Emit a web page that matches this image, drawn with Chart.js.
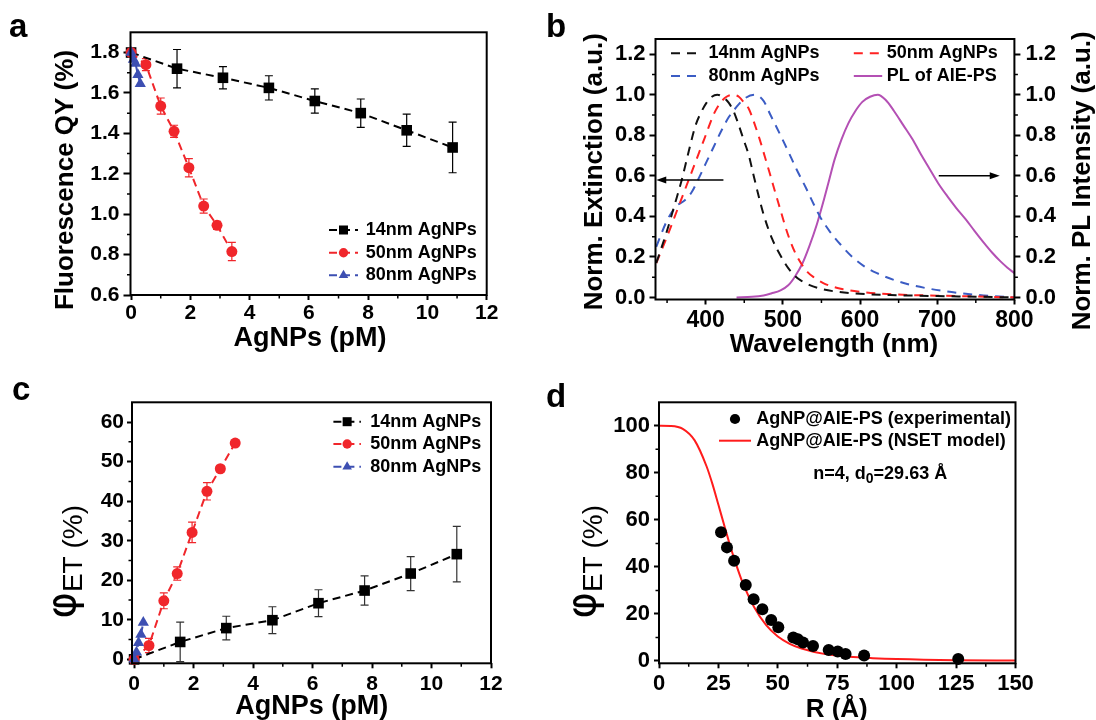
<!DOCTYPE html>
<html>
<head>
<meta charset="utf-8">
<title>AgNP quenching of AIE-PS</title>
<script src="https://cdn.jsdelivr.net/npm/chart.js@4.4.1/dist/chart.umd.min.js"></script>
<style>
  html, body { margin: 0; padding: 0; background: #fff; }
  body { position: relative; width: 1096px; height: 720px; overflow: hidden; font-family: 'Liberation Sans', Arial, sans-serif; }
  .panel { position: absolute; }
  .tag { position: absolute; font-weight: bold; font-size: 33px; line-height: 1; color: #000; }
</style>
</head>
<body>
<div class="panel" style="left:0;top:0"><canvas id="qyChart" width="540" height="360"></canvas></div>
<div class="panel" style="left:540px;top:0"><canvas id="specChart" width="556" height="360"></canvas></div>
<div class="panel" style="left:0;top:370px"><canvas id="etChart" width="540" height="350"></canvas></div>
<div class="panel" style="left:540px;top:370px"><canvas id="nsetChart" width="556" height="350"></canvas></div>
<div class="tag" style="left:9px;top:9px">a</div>
<div class="tag" style="left:546px;top:9px">b</div>
<div class="tag" style="left:12px;top:372px">c</div>
<div class="tag" style="left:546px;top:379px">d</div>

<script>
const FONT = "'Liberation Sans', Arial, Helvetica, sans-serif";

// ---- a / c : concentration series (pM)
const conc14 = [0, 1.55, 3.1, 4.65, 6.2, 7.75, 9.3, 10.85];
const conc50 = [0, 0.5, 1.0, 1.45, 1.95, 2.45, 2.9, 3.4];
const conc80 = [0, 0.08, 0.15, 0.23, 0.31];

// a: fluorescence QY (%)
const qy14 = [1.80, 1.72, 1.675, 1.625, 1.56, 1.50, 1.415, 1.33];
const qy14Err = [0, 0.095, 0.055, 0.06, 0.06, 0.07, 0.08, 0.125];
const qy50 = [1.80, 1.74, 1.535, 1.41, 1.23, 1.04, 0.945, 0.815];
const qy50Err = [0, 0.03, 0.04, 0.03, 0.045, 0.035, 0.02, 0.045];
const qy80 = [1.80, 1.765, 1.745, 1.69, 1.645];

// c: energy transfer efficiency (%)
const et14 = [0, 4.4, 7.9, 9.9, 14.2, 17.4, 21.7, 26.6];
const et14Err = [0, 5, 3, 3.4, 3.4, 3.7, 4.3, 7];
const et50 = [0, 3.5, 14.8, 21.7, 32.1, 42.5, 48.2, 54.7];
const et50Err = [0, 1.8, 2, 1.7, 2.6, 2.2, 0.8, 0.7];
const et80 = [0, 1.8, 4.2, 6.3, 9.3];

// b: normalised extinction / PL spectra
const wl14 = [336, 350, 360, 369, 378, 387, 395, 401, 408, 415, 422, 430, 436, 442, 449, 456, 461, 468, 475, 486, 498, 507, 516, 525, 534, 550, 567, 600, 650, 700, 750, 800];
const ext14 = [0.17, 0.33, 0.46, 0.58, 0.72, 0.85, 0.92, 0.96, 0.99, 1.0, 0.99, 0.96, 0.92, 0.86, 0.78, 0.70, 0.62, 0.51, 0.41, 0.29, 0.20, 0.145, 0.105, 0.08, 0.062, 0.042, 0.03, 0.018, 0.011, 0.007, 0.004, 0.0];
const wl50 = [336, 350, 365, 378, 390, 401, 410, 419, 427, 435, 443, 450, 456, 463, 470, 477, 484, 490, 497, 504, 511, 518, 525, 532, 540, 553, 575, 600, 645, 700, 750, 800];
const ext50 = [0.17, 0.30, 0.45, 0.58, 0.70, 0.81, 0.90, 0.96, 0.99, 1.0, 0.99, 0.96, 0.93, 0.86, 0.78, 0.69, 0.60, 0.52, 0.43, 0.34, 0.265, 0.205, 0.16, 0.125, 0.1, 0.07, 0.043, 0.028, 0.015, 0.009, 0.005, 0.0];
const wl80 = [336, 350, 362, 373, 382, 390, 400, 410, 420, 430, 440, 450, 463, 475, 484, 497, 507, 518, 530, 540, 548, 560, 575, 590, 605, 622, 645, 668, 690, 713, 737, 760, 780, 800];
const ext80 = [0.25, 0.38, 0.45, 0.48, 0.52, 0.58, 0.66, 0.74, 0.82, 0.89, 0.94, 0.98, 1.0, 0.97, 0.90, 0.80, 0.72, 0.63, 0.54, 0.46, 0.40, 0.33, 0.26, 0.2, 0.155, 0.12, 0.085, 0.06, 0.043, 0.029, 0.018, 0.01, 0.005, 0.0];
const wlPL = [440, 460, 475, 485, 497, 507, 516, 525, 534, 544, 553, 560, 567, 576, 585, 594, 603, 613, 623, 633, 644, 656, 668, 679, 690, 701, 713, 725, 737, 748, 760, 771, 782, 791, 800];
const plInt = [0.0, 0.003, 0.01, 0.02, 0.035, 0.06, 0.105, 0.165, 0.25, 0.36, 0.48, 0.58, 0.68, 0.78, 0.86, 0.92, 0.965, 0.99, 1.0, 0.975, 0.92, 0.85, 0.78, 0.705, 0.635, 0.565, 0.5, 0.44, 0.385, 0.33, 0.272, 0.222, 0.178, 0.147, 0.12];
const arrowExt = [423, 336, 0.58];   // from nm, to nm, level
const arrowPL = [702, 781, 0.60];

// d: NSET fit
const distR = [26.1, 28.6, 31.6, 36.5, 39.8, 43.5, 47.2, 50.2, 56.5, 58.4, 60.6, 64.8, 71.4, 75.2, 78.5, 86.3, 125.9];
const distPhi = [54.7, 48.3, 42.6, 32.3, 26.2, 22.0, 17.4, 14.3, 10.0, 9.2, 7.8, 6.4, 4.7, 4.0, 3.0, 2.3, 0.85];
const nsetR = [0, 5, 10, 15, 20, 22.5, 25, 27.5, 30, 32.5, 35, 40, 45, 50, 55, 60, 70, 80, 90, 100, 125, 150];
const nsetPhi = [100, 99.9, 98.7, 93.8, 82.8, 75.2, 66.4, 57.5, 48.8, 40.9, 33.8, 22.9, 15.3, 10.4, 7.3, 5.3, 2.9, 1.8, 1.2, 0.8, 0.3, 0.15];

// tick labels
const concTicks = [0, 2, 4, 6, 8, 10, 12];
const concMinor = [1, 3, 5, 7, 9, 11];
const qyTicks = [0.6, 0.8, 1.0, 1.2, 1.4, 1.6, 1.8];
const qyMinor = [0.7, 0.9, 1.1, 1.3, 1.5, 1.7];
const wlTicks = [400, 500, 600, 700, 800];
const wlMinor = [350, 450, 550, 650, 750];
const normTicks = [0, 0.2, 0.4, 0.6, 0.8, 1.0, 1.2];
const normMinor = [0.1, 0.3, 0.5, 0.7, 0.9, 1.1];
const etTicks = [0, 10, 20, 30, 40, 50, 60];
const etMinor = [5, 15, 25, 35, 45, 55];
const rTicks = [0, 25, 50, 75, 100, 125, 150];
const rMinor = [12.5, 37.5, 62.5, 87.5, 112.5, 137.5];
const phiTicks = [0, 20, 40, 60, 80, 100];
const phiMinor = [10, 30, 50, 70, 90];

function toPoints(xs, ys) {
    return xs.map((x, i) => ({ x: x, y: ys[i] }));
}

Chart.defaults.font.family = FONT;
Chart.defaults.color = '#000';
Chart.defaults.animation = false;
Chart.defaults.plugins.legend.display = false;
Chart.defaults.plugins.tooltip.enabled = false;

// Frame round the plot plus the short minor ticks
const frame = {
    id: 'frame',
    afterDraw(chart, args, o) {
        const { ctx, chartArea: a, scales } = chart;
        ctx.save();
        ctx.strokeStyle = '#000';
        ctx.lineWidth = 2;
        ctx.strokeRect(a.left, a.top, a.right - a.left, a.bottom - a.top);
        ctx.lineWidth = 1.5;
        ctx.beginPath();
        (o.minorX || []).forEach(v => {
            const px = scales.x.getPixelForValue(v);
            ctx.moveTo(px, a.bottom); ctx.lineTo(px, a.bottom + 3.5);
        });
        (o.minorY || []).forEach(v => {
            const py = scales.y.getPixelForValue(v);
            ctx.moveTo(a.left, py); ctx.lineTo(a.left - 3.5, py);
        });
        (o.minorY2 || []).forEach(v => {
            const py = scales.y2.getPixelForValue(v);
            ctx.moveTo(a.right, py); ctx.lineTo(a.right + 3.5, py);
        });
        ctx.stroke();
        ctx.restore();
    }
};

// Vertical error bars with caps, read from dataset.errors
const errorBars = {
    id: 'errorBars',
    beforeDatasetsDraw(chart) {
        const { ctx, scales } = chart;
        chart.data.datasets.forEach((ds, i) => {
            if (!ds.errors) return;
            const meta = chart.getDatasetMeta(i);
            ctx.save();
            ctx.strokeStyle = ds.errorColor || ds.borderColor;
            ctx.lineWidth = 1.2;
            meta.data.forEach((pt, j) => {
                const e = ds.errors[j];
                if (!e) return;
                const v = ds.data[j].y;
                const t = scales.y.getPixelForValue(v + e);
                const b = scales.y.getPixelForValue(v - e);
                ctx.beginPath();
                ctx.moveTo(pt.x, t); ctx.lineTo(pt.x, b);
                ctx.moveTo(pt.x - 4, t); ctx.lineTo(pt.x + 4, t);
                ctx.moveTo(pt.x - 4, b); ctx.lineTo(pt.x + 4, b);
                ctx.stroke();
            });
            ctx.restore();
        });
    }
};

function drawMarker(ctx, style, r, x, y, color) {
    ctx.fillStyle = color;
    ctx.beginPath();
    if (style === 'rect') {
        const s = r * Math.SQRT1_2;
        ctx.rect(x - s, y - s, 2 * s, 2 * s);
    } else if (style === 'triangle') {
        ctx.moveTo(x, y - r);
        ctx.lineTo(x + r * 0.866, y + r * 0.5);
        ctx.lineTo(x - r * 0.866, y + r * 0.5);
        ctx.closePath();
    } else {
        ctx.arc(x, y, r, 0, Math.PI * 2);
    }
    ctx.fill();
}

// Legend drawn inside the plot, one row per dataset
const boxLegend = {
    id: 'boxLegend',
    afterDraw(chart, args, o) {
        if (!o.rows) return;
        const ctx = chart.ctx;
        ctx.save();
        ctx.font = 'bold ' + o.size + 'px ' + FONT;
        ctx.textBaseline = 'middle';
        chart.data.datasets.forEach((ds, i) => {
            const row = o.rows[i];
            if (!row) return;
            if (ds.showLine) {
                ctx.strokeStyle = ds.borderColor;
                ctx.lineWidth = 2;
                ctx.setLineDash(ds.borderDash || []);
                ctx.beginPath();
                ctx.moveTo(row.x0, row.y); ctx.lineTo(row.x1, row.y);
                ctx.stroke();
                ctx.setLineDash([]);
            }
            if (ds.pointRadius > 0) {
                drawMarker(ctx, ds.pointStyle, ds.pointRadius * 0.85, (row.x0 + row.x1) / 2, row.y, ds.backgroundColor);
            }
            ctx.fillStyle = '#000';
            ctx.fillText(ds.label, row.tx, row.y);
        });
        ctx.restore();
    }
};

// Axis titles and notes built from text runs (for sub/superscripts)
const textRuns = {
    id: 'textRuns',
    afterDraw(chart, args, o) {
        const ctx = chart.ctx;
        (o.items || []).forEach(t => {
            ctx.save();
            ctx.translate(t.x, t.y);
            if (t.rot) ctx.rotate(t.rot);
            let w = 0;
            t.parts.forEach(p => { ctx.font = p.font; p.w = ctx.measureText(p.text).width; w += p.w; });
            let x = t.align === 'left' ? 0 : -w / 2;
            ctx.textBaseline = t.baseline || 'middle';
            ctx.fillStyle = '#000';
            t.parts.forEach(p => {
                ctx.font = p.font;
                ctx.fillText(p.text, x, p.dy || 0);
                x += p.w;
            });
            ctx.restore();
        });
    }
};

// Horizontal arrows telling which axis a curve belongs to
const axisArrows = {
    id: 'axisArrows',
    afterDatasetsDraw(chart, args, o) {
        const { ctx, scales } = chart;
        (o.items || []).forEach(a => {
            const x0 = scales.x.getPixelForValue(a[0]);
            const x1 = scales.x.getPixelForValue(a[1]);
            const py = scales.y.getPixelForValue(a[2]);
            const d = Math.sign(x1 - x0);
            ctx.save();
            ctx.strokeStyle = '#000';
            ctx.fillStyle = '#000';
            ctx.lineWidth = 1.5;
            ctx.beginPath();
            ctx.moveTo(x0, py); ctx.lineTo(x1 - d * 6, py);
            ctx.stroke();
            ctx.beginPath();
            ctx.moveTo(x1, py); ctx.lineTo(x1 - d * 10, py - 3.5); ctx.lineTo(x1 - d * 10, py + 3.5);
            ctx.closePath();
            ctx.fill();
            ctx.restore();
        });
    }
};

Chart.register(frame, errorBars, boxLegend, textRuns, axisArrows);

function axis(pos, min, max, ticks, fit, tl, pad, size, digits) {
    return {
        type: 'linear',
        position: pos,
        min: min,
        max: max,
        afterBuildTicks: s => { s.ticks = ticks.map(v => ({ value: v })); },
        afterFit: s => { if (pos === 'bottom') s.height = fit; else s.width = fit; },
        grid: { drawOnChartArea: false, drawTicks: true, tickLength: tl, tickWidth: 2, tickColor: '#000' },
        border: { display: false },
        ticks: {
            padding: pad,
            color: '#000',
            autoSkip: false,
            maxRotation: 0,
            font: { family: FONT, size: size, weight: 'bold' },
            callback: v => digits ? v.toFixed(digits) : String(v)
        }
    };
}

function title(text, x, y, size, rot) {
    return { x: x, y: y, rot: rot || 0, parts: [{ text: text, font: 'bold ' + size + 'px ' + FONT }] };
}

function phiTitle(x, y) {
    return {
        x: x, y: y, rot: -Math.PI / 2, baseline: 'alphabetic',
        parts: [
            { text: 'φ', font: "40px 'DejaVu Sans', sans-serif" },
            { text: 'ET (%)', font: '28px ' + FONT, dy: 7 }
        ]
    };
}

const BLACK = '#000000';
const RED = '#f0262b';
const BLUE = '#3d4fb2';

// a: fluorescence QY vs AgNPs
new Chart(document.getElementById('qyChart'), {
    type: 'scatter',
    data: {
        datasets: [
            { label: '14nm AgNPs', data: toPoints(conc14, qy14), errors: qy14Err, borderColor: BLACK, backgroundColor: BLACK,
              showLine: true, borderDash: [8, 5], borderWidth: 2, pointStyle: 'rect', pointRadius: 7.5, pointBorderWidth: 0, clip: false, order: 3 },
            { label: '50nm AgNPs', data: toPoints(conc50, qy50), errors: qy50Err, borderColor: RED, backgroundColor: RED,
              showLine: true, borderDash: [8, 5], borderWidth: 2, pointStyle: 'circle', pointRadius: 5.5, pointBorderWidth: 0, clip: false, order: 2 },
            { label: '80nm AgNPs', data: toPoints(conc80, qy80), borderColor: BLUE, backgroundColor: BLUE,
              showLine: true, borderDash: [8, 5], borderWidth: 2, pointStyle: 'triangle', pointRadius: 6.5, pointBorderWidth: 0, clip: false, order: 1 }
        ]
    },
    options: {
        responsive: false,
        layout: { padding: { left: 0, top: 32.3, right: 53.3, bottom: 0 } },
        scales: {
            x: axis('bottom', -0.02, 12, concTicks, 65, 5, 1, 21, 0),
            y: axis('left', 0.6, 1.9, qyTicks, 130.5, 7, 4, 21, 1)
        },
        plugins: {
            frame: { minorX: concMinor, minorY: qyMinor },
            boxLegend: { size: 18, rows: [
                { y: 230, x0: 329, x1: 358, tx: 365.7 },
                { y: 252.7, x0: 329, x1: 358, tx: 365.7 },
                { y: 275.3, x0: 329, x1: 358, tx: 365.7 }
            ] },
            textRuns: { items: [
                title('Fluorescence QY (%)', 66, 180, 26, -Math.PI / 2),
                title('AgNPs (pM)', 310, 338.3, 27)
            ] }
        }
    }
});

// b: normalised spectra
new Chart(document.getElementById('specChart'), {
    type: 'scatter',
    data: {
        datasets: [
            { label: '14nm AgNPs', data: toPoints(wl14, ext14), borderColor: '#111111', backgroundColor: '#111111', showLine: true,
              borderDash: [9, 7], borderWidth: 2, pointRadius: 0, cubicInterpolationMode: 'monotone', yAxisID: 'y' },
            { label: '50nm AgNPs', data: toPoints(wl50, ext50), borderColor: '#ff2222', backgroundColor: '#ff2222', showLine: true,
              borderDash: [9, 7], borderWidth: 2, pointRadius: 0, cubicInterpolationMode: 'monotone', yAxisID: 'y' },
            { label: '80nm AgNPs', data: toPoints(wl80, ext80), borderColor: '#3b5cc4', backgroundColor: '#3b5cc4', showLine: true,
              borderDash: [9, 7], borderWidth: 2, pointRadius: 0, cubicInterpolationMode: 'monotone', yAxisID: 'y' },
            { label: 'PL of AIE-PS', data: toPoints(wlPL, plInt), borderColor: '#b450b4', backgroundColor: '#b450b4', showLine: true,
              borderWidth: 2, pointRadius: 0, cubicInterpolationMode: 'monotone', yAxisID: 'y2' }
        ]
    },
    options: {
        responsive: false,
        layout: { padding: { left: 0, top: 39, right: 0, bottom: 0 } },
        scales: {
            x: axis('bottom', 335, 800, wlTicks, 60.5, 5, 2, 23, 0),
            y: axis('left', -0.01, 1.275, normTicks, 115.5, 6, 4, 22, 1),
            y2: axis('right', -0.01, 1.275, normTicks, 81.6, 6, 5, 22, 1)
        },
        plugins: {
            frame: { minorX: wlMinor, minorY: normMinor, minorY2: normMinor },
            axisArrows: { items: [arrowExt, arrowPL] },
            boxLegend: { size: 18, rows: [
                { y: 53.3, x0: 131, x1: 163, tx: 168.4 },
                { y: 53.3, x0: 313.8, x1: 342.2, tx: 346.8 },
                { y: 76, x0: 131, x1: 163, tx: 168.4 },
                { y: 76, x0: 313.8, x1: 342.2, tx: 346.8 }
            ] },
            textRuns: { items: [
                title('Norm. Extinction (a.u.)', 55, 171.7, 26, -Math.PI / 2),
                title('Norm. PL Intensity (a.u.)', 542.5, 180.8, 26, -Math.PI / 2),
                title('Wavelength (nm)', 294, 345, 26)
            ] }
        }
    }
});

// c: energy transfer efficiency vs AgNPs
new Chart(document.getElementById('etChart'), {
    type: 'scatter',
    data: {
        datasets: [
            { label: '14nm AgNPs', data: toPoints(conc14, et14), errors: et14Err, borderColor: BLACK, backgroundColor: BLACK, errorColor: '#333333',
              showLine: true, borderDash: [8, 5], borderWidth: 2, pointStyle: 'rect', pointRadius: 7.5, pointBorderWidth: 0, clip: false, order: 3 },
            { label: '50nm AgNPs', data: toPoints(conc50, et50), errors: et50Err, borderColor: RED, backgroundColor: RED,
              showLine: true, borderDash: [8, 5], borderWidth: 2, pointStyle: 'circle', pointRadius: 5.5, pointBorderWidth: 0, clip: false, order: 2 },
            { label: '80nm AgNPs', data: toPoints(conc80, et80), borderColor: BLUE, backgroundColor: BLUE,
              showLine: true, borderDash: [8, 5], borderWidth: 2, pointStyle: 'triangle', pointRadius: 6.5, pointBorderWidth: 0, clip: false, order: 1 }
        ]
    },
    options: {
        responsive: false,
        layout: { padding: { left: 0, top: 32.3, right: 49, bottom: 0 } },
        scales: {
            x: axis('bottom', -0.07, 12, concTicks, 56.7, 5, 3, 21, 0),
            y: axis('left', -1, 65, etTicks, 132, 5, 3, 21, 0)
        },
        plugins: {
            frame: { minorX: concMinor, minorY: etMinor },
            boxLegend: { size: 18, rows: [
                { y: 51.7, x0: 333.4, x1: 360.9, tx: 370.2 },
                { y: 74, x0: 333.4, x1: 360.9, tx: 370.2 },
                { y: 96.7, x0: 333.4, x1: 360.9, tx: 370.2 }
            ] },
            textRuns: { items: [
                phiTitle(75, 191.7),
                title('AgNPs (pM)', 311.7, 336.7, 27)
            ] }
        }
    }
});

// d: efficiency vs distance with NSET model
new Chart(document.getElementById('nsetChart'), {
    type: 'scatter',
    data: {
        datasets: [
            { label: 'AgNP@AIE-PS (experimental)', data: toPoints(distR, distPhi), borderColor: BLACK, backgroundColor: BLACK,
              showLine: false, pointStyle: 'circle', pointRadius: 6, pointBorderWidth: 0, clip: false },
            { label: 'AgNP@AIE-PS (NSET model)', data: toPoints(nsetR, nsetPhi), borderColor: '#ff1c1c', backgroundColor: '#ff1c1c',
              showLine: true, borderWidth: 2, pointRadius: 0, cubicInterpolationMode: 'monotone' }
        ]
    },
    options: {
        responsive: false,
        layout: { padding: { left: 0, top: 32.3, right: 80.5, bottom: 0 } },
        scales: {
            x: axis('bottom', 0, 150, rTicks, 56.7, 5, 2, 22, 0),
            y: axis('left', -1, 110, phiTicks, 119, 5, 4, 22, 0)
        },
        plugins: {
            frame: { minorX: rMinor, minorY: phiMinor },
            boxLegend: { size: 18, rows: [
                { y: 49, x0: 179, x1: 211, tx: 216.3 },
                { y: 70.7, x0: 179, x1: 211, tx: 216.3 }
            ] },
            textRuns: { items: [
                phiTitle(55, 191.7),
                title('R (Å)', 296.7, 340, 26),
                { x: 273.3, y: 109.3, align: 'left', baseline: 'alphabetic', parts: [
                    { text: 'n=4, d', font: 'bold 18px ' + FONT },
                    { text: '0', font: 'bold 14px ' + FONT, dy: 4 },
                    { text: '=29.63 Å', font: 'bold 18px ' + FONT }
                ] }
            ] }
        }
    }
});
</script>
</body>
</html>
